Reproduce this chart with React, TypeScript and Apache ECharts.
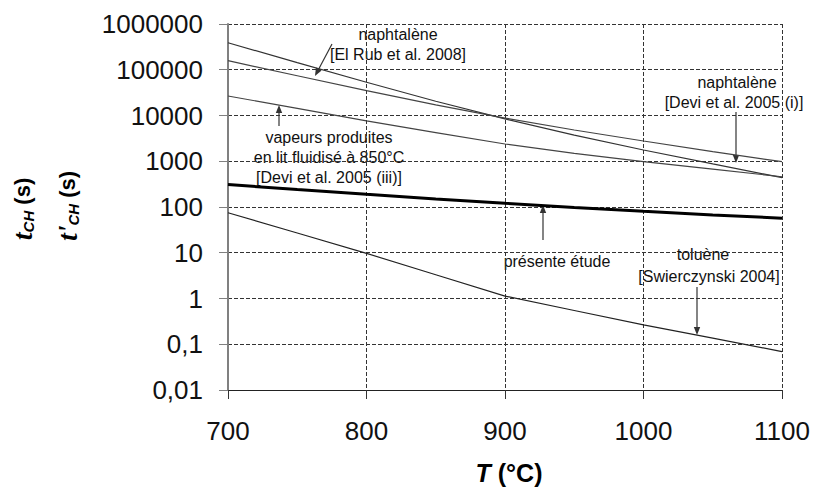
import React, { useEffect, useRef } from "react";
import * as echarts from "echarts";

const temperatures = [700, 750, 800, 850, 900, 950, 1000, 1050, 1100];
const naphDeviI = [390000, 143000, 53200, 20500, 8430, 3720, 1760, 873, 437];
const naphElRub = [158000, 73800, 34900, 17100, 8770, 4820, 2770, 1630, 977];
const vapeursDeviIII = [26700, 14300, 7620, 4230, 2380, 1485, 977, 670, 459];
const presenteEtude = [310, 240, 189, 150, 120.5, 98, 80.5, 67, 57];
const tolueneSwier = [75, 27, 9.7, 3.3, 1.13, 0.547, 0.264, 0.136, 0.069];

const xTicks = { min: 700, max: 1100, interval: 100 };
const yRange = { min: 0.01, max: 1000000 };

const pair = (ys: number[]) => temperatures.map((t, i) => [t, ys[i]]);

function arrow(x1: number, y1: number, x2: number, y2: number) {
  const dx = x2 - x1;
  const dy = y2 - y1;
  const len = Math.sqrt(dx * dx + dy * dy);
  const ux = dx / len;
  const uy = dy / len;
  const hl = 8;
  const hw = 3.2;
  const bx = x2 - ux * hl;
  const by = y2 - uy * hl;
  return [
    {
      type: "line",
      shape: { x1, y1, x2: bx, y2: by },
      style: { stroke: "#333", lineWidth: 1.2 },
      silent: true,
    },
    {
      type: "polygon",
      shape: {
        points: [
          [x2, y2],
          [bx - uy * hw, by + ux * hw],
          [bx + uy * hw, by - ux * hw],
        ],
      },
      style: { fill: "#333" },
      silent: true,
    },
  ];
}

const annFont = { fontSize: 16, fontFamily: "Liberation Sans, Arial, sans-serif", fill: "#111" };

function label(text: string, x: number, y: number) {
  return {
    type: "text",
    x,
    y,
    style: { text, ...annFont, align: "center", verticalAlign: "middle" },
    silent: true,
  };
}

const gridLine = { show: true, lineStyle: { color: "#333", type: "dashed", dashOffset: 0, width: 1 } };

export default function App() {
  const ref = useRef<HTMLDivElement>(null);
  useEffect(() => {
    if (!ref.current) return;
    const chart = echarts.init(ref.current, null, { renderer: "svg" });
    const lineSeries = (name: string, ys: number[], color: string, width: number) => ({
      name,
      type: "line",
      data: pair(ys),
      showSymbol: false,
      smooth: false,
      lineStyle: { color, width },
      silent: true,
      z: 3,
    });
    chart.setOption({
      animation: false,
      backgroundColor: "#fff",
      grid: { left: 228, right: 31, top: 24, bottom: 104, containLabel: false },
      xAxis: {
        type: "value",
        min: xTicks.min,
        max: xTicks.max,
        interval: xTicks.interval,
        axisLine: { show: true, onZero: false, lineStyle: { color: "#222", width: 1.2 } },
        axisTick: { show: true, length: 9, lineStyle: { color: "#333" } },
        axisLabel: {
          margin: 28,
          fontSize: 26,
          color: "#111",
          fontFamily: "Liberation Sans, Arial, sans-serif",
          formatter: (v: number) => String(v),
        },
        splitLine: gridLine,
      },
      yAxis: {
        type: "log",
        logBase: 10,
        min: yRange.min,
        max: yRange.max,
        axisLine: { show: true, lineStyle: { color: "#808080", width: 2 } },
        axisTick: { show: true, length: 9, lineStyle: { color: "#808080" } },
        axisLabel: {
          margin: 25,
          fontSize: 26,
          color: "#111",
          fontFamily: "Liberation Sans, Arial, sans-serif",
          formatter: (v: number) => String(Number(v.toPrecision(1))).replace(".", ","),
        },
        splitLine: gridLine,
      },
      series: [
        lineSeries("naphtalène [Devi et al. 2005 (i)]", naphDeviI, "#333", 1.2),
        lineSeries("naphtalène [El Rub et al. 2008]", naphElRub, "#444", 1.2),
        lineSeries("vapeurs produites en lit fluidisé à 850°C [Devi et al. 2005 (iii)]", vapeursDeviIII, "#444", 1.2),
        lineSeries("présente étude", presenteEtude, "#000", 3),
        lineSeries("toluène [Swierczynski 2004]", tolueneSwier, "#222", 1.2),
      ],
      graphic: [
        label("naphtalène", 398, 34),
        label("[El Rub et al. 2008]", 398, 54),
        ...arrow(332, 44, 315, 76),
        label("naphtalène", 737, 82),
        label("[Devi et al. 2005 (i)]", 734, 102),
        ...arrow(736, 112, 736, 163),
        label("vapeurs produites", 329, 137),
        label("en lit fluidisé à 850°C", 329, 157),
        label("[Devi et al. 2005 (iii)]", 329, 177),
        ...arrow(279, 126, 279, 105),
        label("présente étude", 557, 261),
        ...arrow(543, 240, 543, 205),
        label("toluène", 703, 254),
        label("[Swierczynski 2004]", 709, 276),
        ...arrow(697, 287, 697, 335),
        {
          type: "text",
          x: 509,
          y: 473,
          style: {
            text: "{i|T}{b| (°C)}",
            align: "center",
            verticalAlign: "middle",
            rich: {
              i: { fontSize: 25, fontWeight: "bold", fontStyle: "italic", fontFamily: "Liberation Sans, Arial, sans-serif", fill: "#000" },
              b: { fontSize: 25, fontWeight: "bold", fontFamily: "Liberation Sans, Arial, sans-serif", fill: "#000" },
            },
          },
          silent: true,
        },
        {
          type: "text",
          x: 22,
          y: 209,
          rotation: Math.PI / 2,
          style: {
            text: "{t|t}{sub|CH}{s| (s)}",
            align: "center",
            verticalAlign: "middle",
            rich: {
              t: { fontSize: 28, fontWeight: "bold", fontStyle: "italic", fontFamily: "Liberation Serif, Times New Roman, serif", fill: "#000", lineHeight: 28 },
              sub: { fontSize: 15, fontWeight: "bold", fontStyle: "italic", fontFamily: "Liberation Sans, Arial, sans-serif", fill: "#000", verticalAlign: "bottom", lineHeight: 22 },
              s: { fontSize: 22, fontWeight: "bold", fontFamily: "Liberation Sans, Arial, sans-serif", fill: "#000", lineHeight: 28 },
            },
          },
          silent: true,
        },
        {
          type: "text",
          x: 67,
          y: 206,
          rotation: Math.PI / 2,
          style: {
            text: "{t|t'}{sub|CH}{s| (s)}",
            align: "center",
            verticalAlign: "middle",
            rich: {
              t: { fontSize: 28, fontWeight: "bold", fontStyle: "italic", fontFamily: "Liberation Serif, Times New Roman, serif", fill: "#000", lineHeight: 28 },
              sub: { fontSize: 15, fontWeight: "bold", fontStyle: "italic", fontFamily: "Liberation Sans, Arial, sans-serif", fill: "#000", verticalAlign: "bottom", lineHeight: 22 },
              s: { fontSize: 22, fontWeight: "bold", fontFamily: "Liberation Sans, Arial, sans-serif", fill: "#000", lineHeight: 28 },
            },
          },
          silent: true,
        },
      ],
    });
    return () => chart.dispose();
  }, []);
  return (
    <div
      ref={ref}
      style={{ position: "fixed", left: 0, top: 0, width: 813, height: 494, background: "#fff" }}
    />
  );
}
